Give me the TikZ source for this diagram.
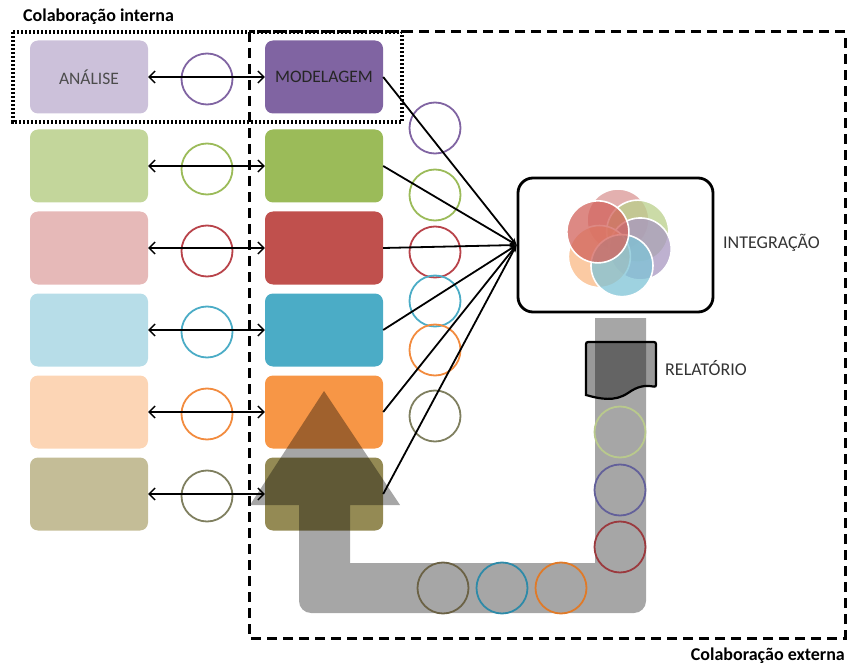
\documentclass[tikz,border=0pt]{standalone}
\usepackage{fontspec}
\setmainfont{Carlito}
\usetikzlibrary{arrows.meta}
\definecolor{lA}{HTML}{CCC1DA}
\definecolor{lB}{HTML}{C3D69B}
\definecolor{lC}{HTML}{E6B9B8}
\definecolor{lD}{HTML}{B7DDE8}
\definecolor{lE}{HTML}{FCD5B5}
\definecolor{lF}{HTML}{C4BD97}
\definecolor{dA}{HTML}{8064A2}
\definecolor{dB}{HTML}{9BBB59}
\definecolor{dC}{HTML}{C0504D}
\definecolor{dD}{HTML}{4BACC6}
\definecolor{dE}{HTML}{F79646}
\definecolor{dF}{HTML}{948A54}
\definecolor{rA}{HTML}{8064A2}
\definecolor{rB}{HTML}{9BBB59}
\definecolor{rC}{HTML}{B8434A}
\definecolor{rD}{HTML}{4BACC6}
\definecolor{rE}{HTML}{F28B3E}
\definecolor{rF}{HTML}{7F7F5F}
\definecolor{fpink}{HTML}{D99694}
\definecolor{fgreen}{HTML}{B9CF8A}
\definecolor{flav}{HTML}{A897C0}
\definecolor{fblue}{HTML}{7EC3D6}
\definecolor{fpeach}{HTML}{F9B884}
\definecolor{fred}{HTML}{D2625B}
\definecolor{bA}{HTML}{B9C98C}
\definecolor{bB}{HTML}{63609A}
\definecolor{bC}{HTML}{9B3A3E}
\definecolor{bD}{HTML}{6B6245}
\definecolor{bE}{HTML}{2E8AA8}
\definecolor{bF}{HTML}{E07A28}
\begin{document}
\begin{tikzpicture}[x=1pt,y=-1pt,
  boxstyle/.style={rounded corners=8pt, minimum width=118pt, minimum height=73pt, inner sep=0pt, font=\fontsize{17.5}{20}\selectfont},
  ring/.style={circle, minimum size=51pt, inner sep=0pt, line width=1.8pt},
  dbl/.style={line width=1.4pt, {Straight Barb[length=6pt,width=12pt]}-{Straight Barb[length=6pt,width=12pt]}},
  conn/.style={line width=1.8pt, -{Stealth[length=7pt,width=5pt]}},
  lbl/.style={font=\fontsize{18}{20}\selectfont, text=black!80, inner sep=0pt},
  title/.style={font=\bfseries\fontsize{18}{20}\selectfont, inner sep=0pt},
  petal/.style={fill opacity=0.75, draw=white, line width=1.6pt, draw opacity=1}
]
\useasboundingbox (0,0) rectangle (847,666);

% frames
\draw[line width=3pt, dash pattern=on 10pt off 6pt] (249,32) rectangle (845,638);
\draw[line width=3.2pt, dash pattern=on 2.4pt off 1.6pt] (13,32) rectangle (402,122);
\node[title, anchor=west] (tint) at (23,17) {Colaboração interna};
\node[title, anchor=east] (text) at (845,656) {Colaboração externa};

% left boxes
\node[boxstyle, fill=lA, text=black!70] (L1) at (89,77) {ANÁLISE};
\node[boxstyle, fill=lB] (L2) at (89,166) {};
\node[boxstyle, fill=lC] (L3) at (89,248) {};
\node[boxstyle, fill=lD] (L4) at (89,330) {};
\node[boxstyle, fill=lE] (L5) at (89,412) {};
\node[boxstyle, fill=lF] (L6) at (89,494) {};
% right boxes
\node[boxstyle, fill=dA, text=black!85] (R1) at (324,77) {MODELAGEM};
\node[boxstyle, fill=dB] (R2) at (324,166) {};
\node[boxstyle, fill=dC] (R3) at (324,248) {};
\node[boxstyle, fill=dD] (R4) at (324,330) {};
\node[boxstyle, fill=dE] (R5) at (324,412) {};
\node[boxstyle, fill=dF] (R6) at (324,494) {};

% middle rings
\node[ring, draw=rA] (m1) at (207,79) {};
\node[ring, draw=rB] (m2) at (207,169) {};
\node[ring, draw=rC] (m3) at (207,251) {};
\node[ring, draw=rD] (m4) at (207,332) {};
\node[ring, draw=rE] (m5) at (207,414) {};
\node[ring, draw=rF] (m6) at (207,496) {};

% double arrows
\foreach \i in {1,...,6} \draw[dbl] (L\i.east) -- (R\i.west);

% gray U arrow
\fill[black, fill opacity=0.35] (646,400) [rounded corners=12pt] -- (646,613) -- (299,613) -- (299,560) [sharp corners] -- (299,505) -- (250,505) -- (324,391) -- (400,505) -- (350,505) -- (350,563) -- (595,563) -- (595,318) -- (646,318) -- cycle;

% report document
\filldraw[fill=black, fill opacity=0.4, draw=black, line width=2.2pt, rounded corners=2pt] (586,395) -- (586,342) -- (656,342) -- (656,387) [sharp corners] .. controls (645,385) and (638,386) .. (628,393) .. controls (615,402) and (600,399) .. (586,395) -- cycle;
\node[lbl, anchor=west] (rel) at (665,368) {RELATÓRIO};

% rings on the band
\node[ring, draw=bA] (b1) at (620,432) {};
\node[ring, draw=bB] (b2) at (620,490) {};
\node[ring, draw=bC] (b3) at (620,547) {};
\node[ring, draw=bD] (b4) at (443,588) {};
\node[ring, draw=bE] (b5) at (502,588) {};
\node[ring, draw=bF] (b6) at (561,588) {};

% integration box
\node[draw, line width=2.8pt, rounded corners=15pt, minimum width=195pt, minimum height=134pt] (I) at (615.5,245) {};
\coordinate (fl) at (618,243);
\foreach \a/\c in {90/fpink,31/fgreen,-15/flav,-144/fpeach,-80/fblue,151/fred}
  \filldraw[petal, fill=\c] (fl) ++({-\a}:23) circle[radius=31pt];
\node[lbl, anchor=west] (int) at (723,243) {INTEGRAÇÃO};

% right rings
\node[ring, draw=rA] (c1) at (435,128) {};
\node[ring, draw=rB] (c2) at (435,195) {};
\node[ring, draw=rC] (c3) at (435,252) {};
\node[ring, draw=rD] (c4) at (435,301) {};
\node[ring, draw=rE] (c5) at (435,350) {};
\node[ring, draw=rF] (c6) at (435,416) {};

% connectors to integration
\foreach \i in {1,...,6} \draw[conn] (R\i.east) -- (I.west);
\end{tikzpicture}
\end{document}
